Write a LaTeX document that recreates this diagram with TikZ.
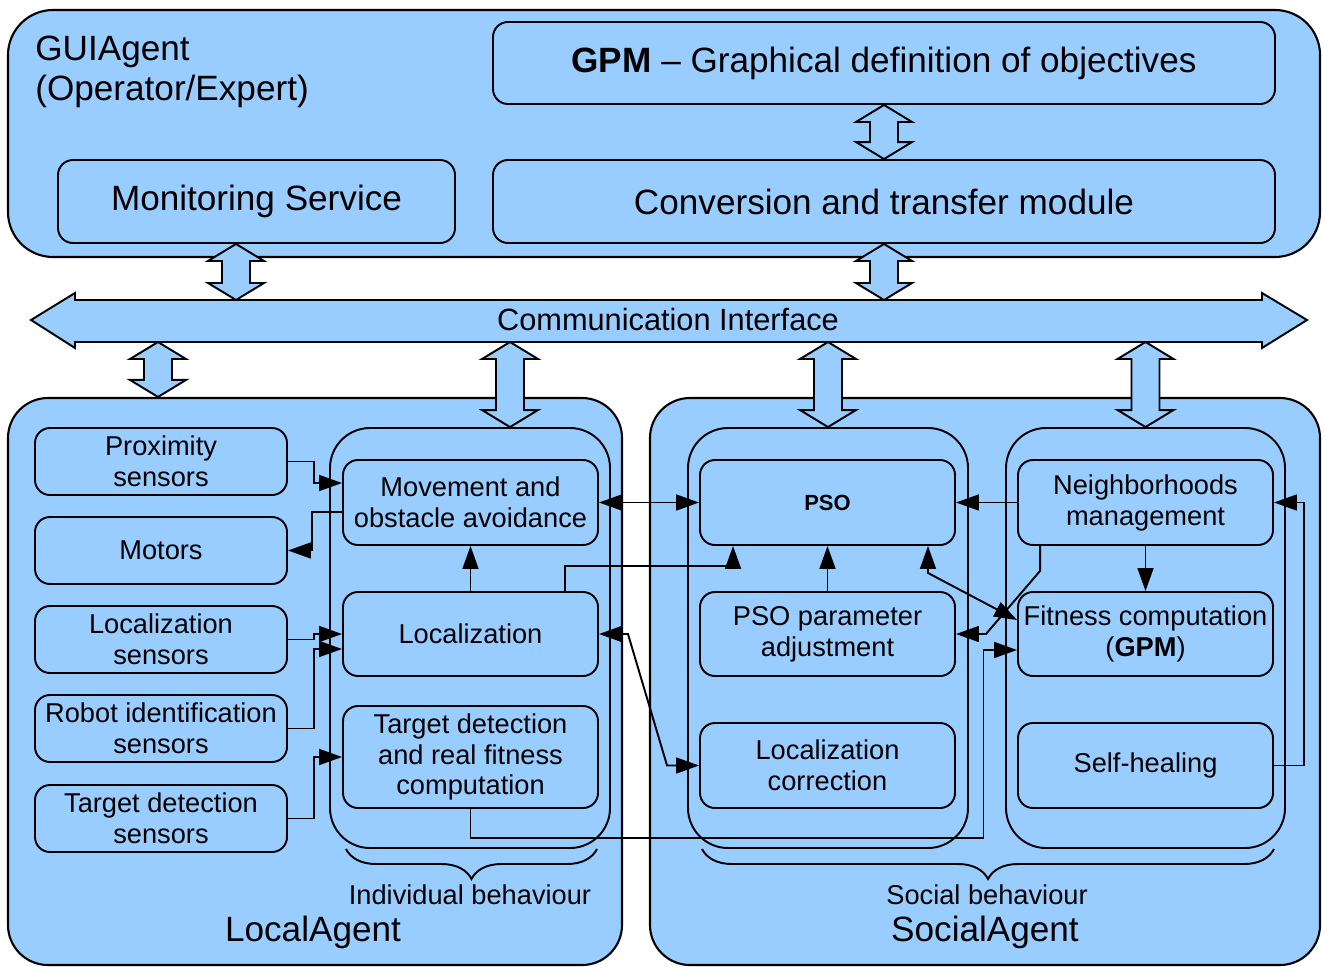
\documentclass[tikz,border=0pt]{standalone}
\usepackage{fontspec}
\setmainfont{Liberation Sans}
\usetikzlibrary{arrows.meta,calc,decorations.pathreplacing}
\definecolor{blu}{RGB}{153,204,255}
\newcommand{\bigfnt}{\fontsize{20pt}{22.7pt}\selectfont}
\newcommand{\medfnt}{\fontsize{15.5pt}{17.6pt}\selectfont}
\newcommand{\comfnt}{\fontsize{17.5pt}{20pt}\selectfont}
\newcommand{\psofnt}{\fontsize{12.5pt}{14pt}\selectfont\bfseries}
\newcommand{\bdarrow}[2]{%
  \draw[barrow] let \p1=(#1), \p2=(#2) in
  (\x1,\y1) -- (\x1+0.56cm,\y1-0.34cm) -- (\x1+0.28cm,\y1-0.34cm)
  -- (\x1+0.28cm,\y2+0.34cm) -- (\x1+0.56cm,\y2+0.34cm) -- (\x1,\y2)
  -- (\x1-0.56cm,\y2+0.34cm) -- (\x1-0.28cm,\y2+0.34cm)
  -- (\x1-0.28cm,\y1-0.34cm) -- (\x1-0.56cm,\y1-0.34cm) -- cycle;}
\begin{document}
\begin{tikzpicture}[x=0.02cm,y=-0.02cm,
  spanbox/.style n args={4}{minimum width={(#3-#1)*0.02cm}, minimum height={(#4-#2)*0.02cm}, at={({(#1+#3)/2},{(#2+#4)/2})}},
  agent/.style={draw, fill=blu, line width=1.2pt, rounded corners=0.8cm, inner sep=0pt},
  grp/.style={draw, line width=1.1pt, rounded corners=0.8cm, inner sep=0pt},
  bx/.style={draw, fill=blu, line width=1.1pt, rounded corners=0.3cm, inner sep=0pt, align=center, font=\medfnt},
  bigbx/.style={bx, font=\bigfnt},
  barrow/.style={draw, fill=blu, line width=1.1pt, line join=miter},
  conn/.style={line width=1.1pt, -{Triangle[length=13pt,width=9pt]}},
  bconn/.style={line width=1.1pt, {Triangle[length=13pt,width=9pt]}-{Triangle[length=13pt,width=9pt]}},
  brc/.style={line width=1.1pt, decorate, decoration={brace, mirror, amplitude=0.6cm}},
  lbl/.style={inner sep=0pt, align=center}]
\useasboundingbox (0,0) rectangle (1324,967);
\fill[white] (0,0) rectangle (1324,967);

% GUI agent
\node[agent, rounded corners=0.9cm, spanbox={8}{10}{1320}{257}] (gui) {};
\node[lbl, align=left, anchor=west, font=\bigfnt] (guilbl) at (35,72) {GUIAgent\\(Operator/Expert)};
\node[bigbx, spanbox={493}{22}{1275}{104}] (gpm) {\textbf{GPM} -- Graphical definition of objectives};
\node[bigbx, spanbox={493}{160}{1275}{243}] (conv) {Conversion and transfer module};
\node[bigbx, spanbox={58}{160}{455}{243}] (mon) {Monitoring Service};

% communication interface
\draw[barrow] (31,320) -- (75,293) -- (75,300) -- (1262,300) -- (1262,293) -- (1307,320)
  -- (1262,348) -- (1262,342) -- (75,342) -- (75,348) -- cycle;
\node[lbl, font=\comfnt] (comm) at (668,320) {Communication Interface};
\coordinate (commtop) at (668,300);
\coordinate (commbot) at (668,342);

% agents
\node[agent, spanbox={8}{398}{622}{965}] (local) {};
\node[agent, spanbox={650}{398}{1320}{965}] (social) {};
\node[grp, spanbox={330}{428}{610}{848}] (indiv) {};
\node[grp, spanbox={688}{428}{968}{848}] (sg1) {};
\node[grp, spanbox={1006}{428}{1285}{848}] (sg2) {};

% sensors
\node[bx, spanbox={35}{428}{287}{495}] (prox) {Proximity\\sensors};
\node[bx, spanbox={35}{517}{287}{584}] (motors) {Motors};
\node[bx, spanbox={35}{606}{287}{673}] (locs) {Localization\\sensors};
\node[bx, spanbox={35}{695}{287}{762}] (robid) {Robot identification\\sensors};
\node[bx, spanbox={35}{785}{287}{852}] (tgts) {Target detection\\sensors};

% individual behaviour
\node[bx, spanbox={343}{460}{598}{545}] (move) {Movement and\\obstacle avoidance};
\node[bx, spanbox={343}{592}{598}{676}] (loc) {Localization};
\node[bx, spanbox={343}{706}{598}{808}] (tgt) {Target detection\\and real fitness\\computation};

% social behaviour
\node[bx, spanbox={700}{460}{955}{545}, font=\psofnt] (pso) {PSO};
\node[bx, spanbox={700}{592}{955}{676}] (psoadj) {PSO parameter\\adjustment};
\node[bx, spanbox={700}{723}{955}{808}] (loccorr) {Localization\\correction};
\node[bx, spanbox={1018}{460}{1273}{545}] (neigh) {Neighborhoods\\management};
\node[bx, spanbox={1018}{592}{1273}{676}] (fit) {Fitness computation\\(\textbf{GPM})};
\node[bx, spanbox={1018}{723}{1273}{808}] (heal) {Self-healing};

% block double arrows
\coordinate (m1) at ([xshift=-0.41cm]mon.south);
\coordinate (l1) at (158,0);
\coordinate (l2) at (510,0);
\bdarrow{gpm.south}{conv.north}
\bdarrow{m1}{m1 |- commtop}
\bdarrow{conv.south}{conv.south |- commtop}
\bdarrow{l1 |- commbot}{l1 |- local.north}
\bdarrow{l2 |- commbot}{l2 |- indiv.north}
\bdarrow{sg1.north |- commbot}{sg1.north}
\bdarrow{sg2.north |- commbot}{sg2.north}

% connectors local
\draw[conn] (prox.east) -- ++(26,0) |- ([yshift=0.39cm]move.west);
\draw[conn] ([yshift=-0.19cm]move.west) -- ++(-30,0) |- (motors.east);
\draw[conn] (locs.east) -- ++(26,0) |- (loc.west);
\draw[conn] (robid.east) -- ++(26,0) |- ([yshift=-0.3cm]loc.west);
\draw[conn] (tgts.east) -- ++(26,0) |- (tgt.west);
\draw[conn] (loc.north) -- (move.south);

% connectors between
\draw[bconn] (move.east) -- (pso.west);
\draw[conn] ([xshift=1.89cm]loc.north) -- ++(0,-25) -| ([xshift=-1.89cm]pso.south);
\draw[bconn] (loc.east) -- ++(29,0) -- ([xshift=-0.64cm]loccorr.west) -- (loccorr.west);
\draw[conn] (tgt.south) -- ++(0,29) -- ++(513,0) |- ([yshift=-0.32cm]fit.west);

% connectors social
\draw[conn] (psoadj.north) -- (pso.south);
\draw[conn] (neigh.west) -- (pso.east);
\draw[conn] (neigh.south) -- (fit.north);
\draw[conn] ([xshift=-2.11cm]neigh.south) -- ++(0,25) -- ([xshift=0.6cm]psoadj.east) -- (psoadj.east);
\draw[bconn] ([xshift=2.01cm]pso.south) -- ++(0,27) -- ([yshift=0.28cm]fit.west);
\draw[conn] (heal.east) -- ++(30,0) |- (neigh.east);

% braces
\draw[brc] (346,849) -- (597,849);
\draw[brc] (702,849) -- (1274,849);
\node[lbl, font=\medfnt] (indlbl) at (470,895) {Individual behaviour};
\node[lbl, font=\medfnt] (soclbl) at (987,895) {Social behaviour};
\node[lbl, font=\bigfnt] (locallbl) at (313,932) {LocalAgent};
\node[lbl, font=\bigfnt] (sociallbl) at (985,932) {SocialAgent};
\end{tikzpicture}
\end{document}
